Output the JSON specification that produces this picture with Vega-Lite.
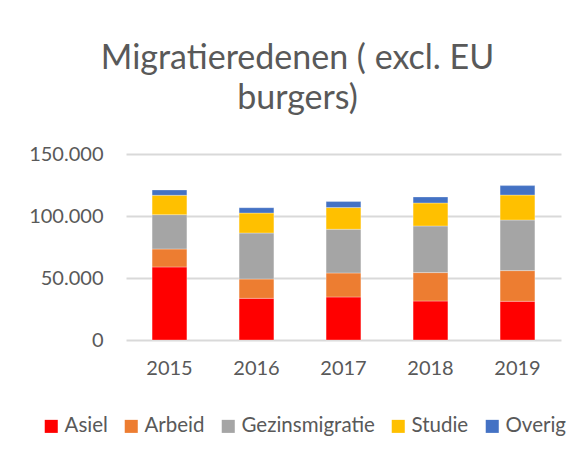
{
  "$schema": "https://vega.github.io/schema/vega-lite/v6.json",
  "autosize": "none",
  "width": 435,
  "height": 186,
  "padding": {"left": 126, "top": 154, "right": 20, "bottom": 117},
  "background": "white",
  "config": {
    "font": "Lato",
    "view": {"stroke": null},
    "locale": {"number": {"decimal": ",", "thousands": ".", "grouping": [3], "currency": ["€", ""]}}
  },
  "title": {
    "text": ["Migratieredenen ( excl. EU", "burgers)"],
    "fontSize": 34,
    "font": "Lato",
    "fontWeight": "normal",
    "color": "#595959",
    "anchor": "middle",
    "dx": -46,
    "offset": 28,
    "lineHeight": 40
  },
  "data": {
    "values": [
      {"jaar": "2015", "reden": "Asiel", "aantal": 58900},
      {"jaar": "2015", "reden": "Arbeid", "aantal": 14500},
      {"jaar": "2015", "reden": "Gezinsmigratie", "aantal": 27700},
      {"jaar": "2015", "reden": "Studie", "aantal": 15600},
      {"jaar": "2015", "reden": "Overig", "aantal": 4300},
      {"jaar": "2016", "reden": "Asiel", "aantal": 33600},
      {"jaar": "2016", "reden": "Arbeid", "aantal": 15600},
      {"jaar": "2016", "reden": "Gezinsmigratie", "aantal": 37100},
      {"jaar": "2016", "reden": "Studie", "aantal": 16100},
      {"jaar": "2016", "reden": "Overig", "aantal": 4300},
      {"jaar": "2017", "reden": "Asiel", "aantal": 34700},
      {"jaar": "2017", "reden": "Arbeid", "aantal": 19350},
      {"jaar": "2017", "reden": "Gezinsmigratie", "aantal": 35250},
      {"jaar": "2017", "reden": "Studie", "aantal": 17500},
      {"jaar": "2017", "reden": "Overig", "aantal": 4850},
      {"jaar": "2018", "reden": "Asiel", "aantal": 31450},
      {"jaar": "2018", "reden": "Arbeid", "aantal": 22900},
      {"jaar": "2018", "reden": "Gezinsmigratie", "aantal": 37600},
      {"jaar": "2018", "reden": "Studie", "aantal": 18550},
      {"jaar": "2018", "reden": "Overig", "aantal": 4850},
      {"jaar": "2019", "reden": "Asiel", "aantal": 31200},
      {"jaar": "2019", "reden": "Arbeid", "aantal": 24750},
      {"jaar": "2019", "reden": "Gezinsmigratie", "aantal": 40800},
      {"jaar": "2019", "reden": "Studie", "aantal": 20150},
      {"jaar": "2019", "reden": "Overig", "aantal": 7600}
    ]
  },
  "transform": [
    {"calculate": "indexof(['Asiel', 'Arbeid', 'Gezinsmigratie', 'Studie', 'Overig'], datum.reden)", "as": "volgorde"}
  ],
  "mark": {"type": "bar", "stroke": "white", "strokeWidth": 0.5, "strokeOpacity": 0.6},
  "encoding": {
    "x": {
      "field": "jaar",
      "type": "nominal",
      "title": null,
      "scale": {"paddingInner": 0.6, "paddingOuter": 0.3},
      "axis": {
        "domain": false,
        "ticks": false,
        "labelAngle": 0,
        "labelFontSize": 20,
        "labelColor": "#595959",
        "labelPadding": 18
      }
    },
    "y": {
      "field": "aantal",
      "type": "quantitative",
      "stack": "zero",
      "title": null,
      "scale": {"domain": [0, 150000]},
      "axis": {
        "values": [0, 50000, 100000, 150000],
        "format": ",.0f",
        "domain": false,
        "ticks": false,
        "labelFontSize": 20,
        "labelColor": "#595959",
        "labelPadding": 23,
        "gridColor": "#d9d9d9",
        "gridWidth": 2
      }
    },
    "color": {
      "field": "reden",
      "type": "nominal",
      "sort": ["Asiel", "Arbeid", "Gezinsmigratie", "Studie", "Overig"],
      "scale": {
        "domain": ["Asiel", "Arbeid", "Gezinsmigratie", "Studie", "Overig"],
        "range": ["#ff0000", "#ed7d31", "#a5a5a5", "#ffc000", "#4472c4"]
      },
      "legend": {
        "title": null,
        "orient": "none",
        "legendX": -85,
        "legendY": 262,
        "direction": "horizontal",
        "symbolType": "square",
        "symbolSize": 170,
        "symbolStrokeWidth": 0,
        "labelFontSize": 20.5,
        "labelColor": "#595959",
        "labelOffset": 3,
        "columnPadding": 13
      }
    },
    "order": {"field": "volgorde", "type": "quantitative", "sort": "ascending"}
  }
}
